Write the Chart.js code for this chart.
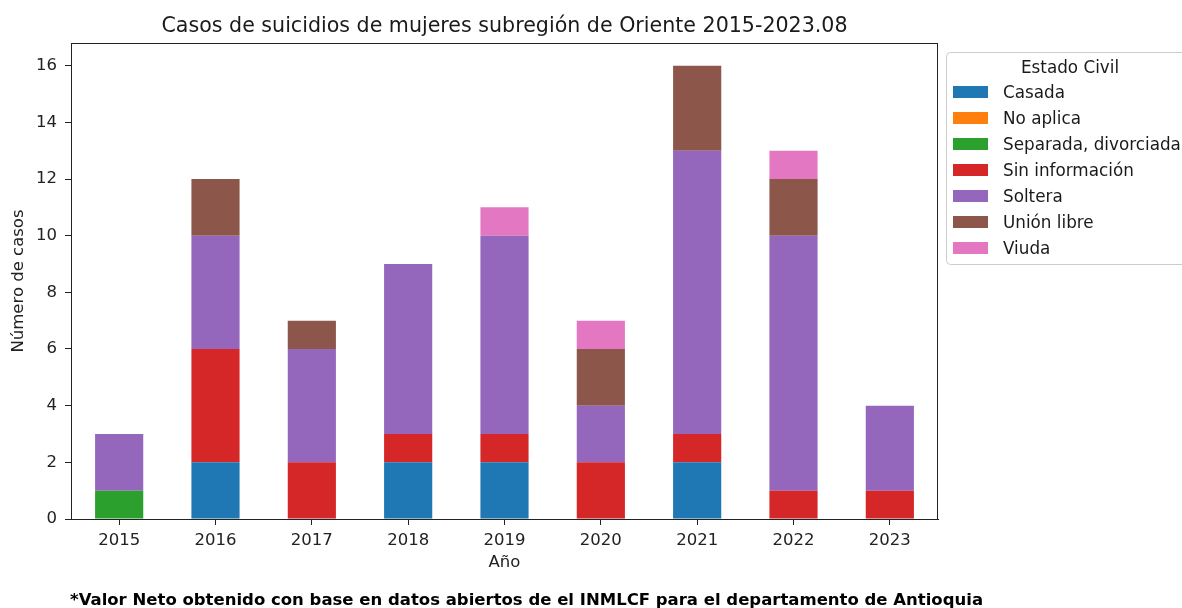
<!DOCTYPE html>
<html>
<head>
<meta charset="utf-8">
<script src="https://cdn.jsdelivr.net/npm/chart.js@4.4.1/dist/chart.umd.min.js"></script>
<style>
body{margin:0;background:#fff}
#wrap{width:1182px;height:608px;position:relative}
</style>
</head>
<body>
<div id="wrap"><canvas id="myChart" width="1182" height="608"></canvas></div>
<script>
// datos
let years=['2015','2016','2017','2018','2019','2020','2021','2022','2023']
let casada=[0,2,0,2,2,0,2,0,0]
let noAplica=[0,0,0,0,0,0,0,0,0]
let separada=[1,0,0,0,0,0,0,0,0]
let sinInfo=[0,4,2,1,1,2,1,1,1]
let soltera=[2,4,4,6,7,2,10,9,3]
let unionLibre=[0,2,1,0,0,2,3,2,0]
let viuda=[0,0,0,0,1,1,0,1,0]
let yTicks=[0,2,4,6,8,10,12,14,16]

let titleText='Casos de suicidios de mujeres subregión de Oriente 2015-2023.08'
let noteText='*Valor Neto obtenido con base en datos abiertos de el INMLCF para el departamento de Antioquia'
let legendTitle='Estado Civil'

const FONT='"DejaVu Sans", sans-serif'
Chart.defaults.font.family=FONT
Chart.defaults.color='#222'

// marco, titulo, nota y leyenda
const extras={
    id:'extras',
    afterDatasetsDraw(chart){
        const ctx=chart.ctx, a=chart.chartArea
        ctx.save()
        ctx.strokeStyle='#222'
        ctx.lineWidth=1
        ctx.strokeRect(a.left+0.5,a.top+0.5,a.right-a.left-1,a.bottom-a.top)
        ctx.restore()
    },
    afterDraw(chart){
        const ctx=chart.ctx, a=chart.chartArea
        ctx.save()
        ctx.fillStyle='#1a1a1a'
        ctx.font='20.6px '+FONT
        ctx.textAlign='center'
        ctx.textBaseline='alphabetic'
        ctx.fillText(titleText,(a.left+a.right)/2,32)

        ctx.fillStyle='#000'
        ctx.font='bold 16.5px '+FONT
        ctx.textAlign='left'
        ctx.fillText(noteText,70,605)

        // leyenda
        const bx=946.5, by=52.5, bw=250, bh=212, r=4
        ctx.beginPath()
        ctx.moveTo(bx+r,by)
        ctx.lineTo(bx+bw-r,by)
        ctx.arcTo(bx+bw,by,bx+bw,by+r,r)
        ctx.lineTo(bx+bw,by+bh-r)
        ctx.arcTo(bx+bw,by+bh,bx+bw-r,by+bh,r)
        ctx.lineTo(bx+r,by+bh)
        ctx.arcTo(bx,by+bh,bx,by+bh-r,r)
        ctx.lineTo(bx,by+r)
        ctx.arcTo(bx,by,bx+r,by,r)
        ctx.closePath()
        ctx.fillStyle='rgba(255,255,255,0.8)'
        ctx.fill()
        ctx.strokeStyle='#cccccc'
        ctx.stroke()

        ctx.fillStyle='#1a1a1a'
        ctx.font='16.8px '+FONT
        ctx.textAlign='center'
        ctx.textBaseline='middle'
        ctx.fillText(legendTitle,1070,69)
        ctx.textAlign='left'
        chart.data.datasets.forEach((ds,i)=>{
            const y=92+i*26
            ctx.fillStyle=ds.backgroundColor
            ctx.fillRect(953,y-6,35,12)
            ctx.fillStyle='#1a1a1a'
            ctx.fillText(ds.label,1003,y+2)
        })
        ctx.restore()
    }
}

function ds(label,data,color){
    return {label:label,data:data,backgroundColor:color,borderWidth:0,
        barPercentage:0.5,categoryPercentage:1}
}

var ctx=document.getElementById('myChart').getContext('2d')
var myChart=new Chart(ctx,{
    type:'bar',
    data:{
        labels:years,
        datasets:[
            ds('Casada',casada,'#1f77b4'),
            ds('No aplica',noAplica,'#ff7f0e'),
            ds('Separada, divorciada',separada,'#2ca02c'),
            ds('Sin información',sinInfo,'#d62728'),
            ds('Soltera',soltera,'#9467bd'),
            ds('Unión libre',unionLibre,'#8c564b'),
            ds('Viuda',viuda,'#e377c2')
        ]
    },
    options:{
        responsive:false,
        animation:false,
        devicePixelRatio:1,
        layout:{padding:{left:0,right:244,top:43,bottom:0}},
        plugins:{legend:{display:false},title:{display:false},tooltip:{enabled:false}},
        scales:{
            x:{
                stacked:true,
                grid:{drawOnChartArea:false,offset:false,tickLength:6,tickColor:'#222'},
                border:{color:'#222'},
                ticks:{font:{size:16.5},color:'#222',padding:6,maxRotation:0},
                title:{display:true,text:'Año',font:{size:16.5},color:'#222',padding:{top:0,bottom:35}},
                afterFit(s){s.height=89}
            },
            y:{
                stacked:true,
                min:0,max:16.8,
                afterBuildTicks(s){s.ticks=yTicks.map(v=>({value:v}))},
                grid:{drawOnChartArea:false,tickLength:6,tickColor:'#222'},
                border:{color:'#222'},
                ticks:{font:{size:16.5},color:'#222',padding:8},
                title:{display:true,text:'Número de casos',font:{size:16.5},color:'#222',padding:{top:9,bottom:0}},
                afterFit(s){s.width=71}
            }
        }
    },
    plugins:[extras]
})
</script>
</body>
</html>
